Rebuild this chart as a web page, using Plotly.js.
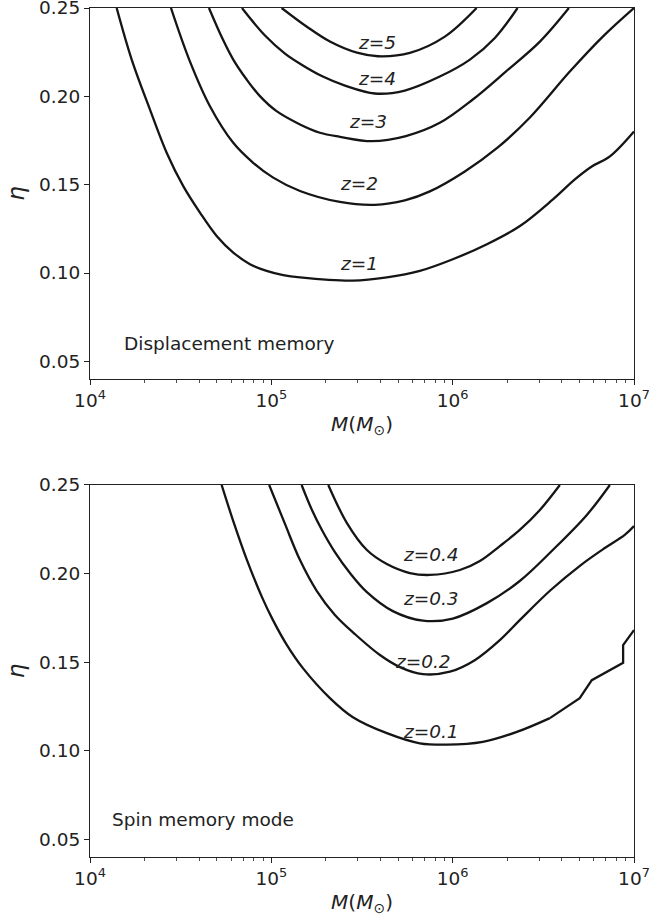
<!DOCTYPE html>
<html>
<head>
<meta charset="utf-8">
<script src="https://cdn.plot.ly/plotly-3.0.1.min.js"></script>
<style>html,body{margin:0;padding:0;background:#fff;}#chart{width:649px;height:919px;}</style>
</head>
<body>
<div id="chart"></div>
<script>
// ---- Data: top panel (Displacement memory), M in solar masses, eta ----
const M_z1 = [1.403e4, 1.698e4, 2.142e4, 2.647e4, 3.268e4, 4.041e4, 4.994e4, 6.166e4, 7.621e4, 9.419e4, 1.163e5, 1.439e5, 2.818e5, 4.335e5, 6.592e5, 1.002e6, 1.545e6, 2.350e6, 3.573e6, 4.720e6, 5.850e6, 7.362e6, 1.0e7];
const eta_z1 = [0.250, 0.2208, 0.1925, 0.1681, 0.1492, 0.1342, 0.1210, 0.1116, 0.1050, 0.1012, 0.0988, 0.0975, 0.0957, 0.0975, 0.1012, 0.1078, 0.1163, 0.1266, 0.1417, 0.1530, 0.1603, 0.1660, 0.1801];
const M_z2 = [2.796e4, 3.524e4, 4.586e4, 6.166e4, 7.943e4, 1.024e5, 1.439e5, 2.388e5, 3.724e5, 5.445e5, 7.482e5, 1.167e6, 1.774e6, 2.667e6, 4.426e6, 6.730e6, 1.0e7];
const eta_z2 = [0.250, 0.2208, 0.1944, 0.1737, 0.1624, 0.1540, 0.1464, 0.1402, 0.1386, 0.1411, 0.1462, 0.1575, 0.1711, 0.1880, 0.2140, 0.2338, 0.250];
const M_z3 = [4.529e4, 5.408e4, 6.166e4, 7.311e4, 8.650e4, 1.069e5, 1.439e5, 1.854e5, 2.388e5, 3.586e5, 5.521e5, 8.492e5, 1.291e6, 1.963e6, 3.027e6, 4.375e6];
const eta_z3 = [0.250, 0.2321, 0.2208, 0.2095, 0.2001, 0.1916, 0.1841, 0.1794, 0.1771, 0.1746, 0.1775, 0.1850, 0.1982, 0.2140, 0.2310, 0.250];
const M_z4 = [6.887e4, 9.226e4, 1.189e5, 1.439e5, 1.923e5, 2.547e5, 3.724e5, 5.445e5, 8.492e5, 1.245e6, 1.714e6, 2.279e6];
const eta_z4 = [0.250, 0.2344, 0.2242, 0.2185, 0.2112, 0.2061, 0.2016, 0.2033, 0.2112, 0.2208, 0.2332, 0.250];
const M_z5 = [1.140e5, 1.570e5, 2.104e5, 2.965e5, 3.873e5, 5.808e5, 9.057e5, 1.355e6];
const eta_z5 = [0.250, 0.2394, 0.2310, 0.2247, 0.2227, 0.2246, 0.2338, 0.250];

// ---- Data: bottom panel (Spin memory mode) ----
const M_s1 = [5.32e4, 6.14e4, 7.34e4, 8.88e4, 1.021e5, 1.219e5, 1.493e5, 2.104e5, 2.818e5, 4.335e5, 6.592e5, 9.29e5, 1.466e6, 2.259e6, 3.436e6, 5.02e6, 5.85e6, 8.71e6, 8.71e6, 1.0e7];
const eta_s1 = [0.250, 0.2302, 0.2076, 0.1867, 0.1737, 0.1596, 0.1466, 0.1297, 0.1189, 0.1099, 0.1042, 0.1034, 0.1050, 0.1106, 0.1184, 0.1297, 0.1398, 0.1496, 0.1596, 0.1681];
const M_s2 = [9.73e4, 1.189e5, 1.439e5, 1.783e5, 2.242e5, 2.891e5, 3.972e5, 5.117e5, 6.855e5, 9.66e5, 1.324e6, 1.820e6, 2.344e6, 3.475e6, 5.09e6, 6.90e6, 8.89e6, 1.0e7];
const eta_s2 = [0.250, 0.2280, 0.2076, 0.1901, 0.1766, 0.1658, 0.1540, 0.1472, 0.1432, 0.1446, 0.1511, 0.1624, 0.1737, 0.1907, 0.2048, 0.2144, 0.2218, 0.2268];
const M_s3 = [1.469e5, 1.675e5, 1.901e5, 2.242e5, 2.713e5, 3.365e5, 4.677e5, 6.855e5, 1.002e6, 1.545e6, 2.344e6, 3.565e6, 5.495e6, 7.36e6];
const eta_s3 = [0.250, 0.2359, 0.2246, 0.2121, 0.2003, 0.1895, 0.1788, 0.1734, 0.1746, 0.1833, 0.1958, 0.2133, 0.2331, 0.250];
const M_s4 = [2.061e5, 2.612e5, 3.365e5, 4.335e5, 5.808e5, 7.482e5, 1.096e6, 1.413e6, 1.820e6, 2.344e6, 3.027e6, 3.90e6];
const eta_s4 = [0.250, 0.2285, 0.2133, 0.2054, 0.2003, 0.1992, 0.2020, 0.2071, 0.2155, 0.2246, 0.2359, 0.250];

// ---- Labels / ticks ----
const topLabels = ['z=5', 'z=4', 'z=3', 'z=2', 'z=1'];
const botLabels = ['z=0.4', 'z=0.3', 'z=0.2', 'z=0.1'];
const xTickVals = [1e4, 1e5, 1e6, 1e7];
const xTickText = ['10<sup>4</sup>', '10<sup>5</sup>', '10<sup>6</sup>', '10<sup>7</sup>'];
const xMinorVals = [2e4, 3e4, 4e4, 5e4, 6e4, 7e4, 8e4, 9e4, 2e5, 3e5, 4e5, 5e5, 6e5, 7e5, 8e5, 9e5, 2e6, 3e6, 4e6, 5e6, 6e6, 7e6, 8e6, 9e6];
const yTickVals = [0.05, 0.10, 0.15, 0.20, 0.25];
const yTickText = ['0.05', '0.10', '0.15', '0.20', '0.25'];
const panelTitles = ['Displacement memory', 'Spin memory mode'];

const FONT = 'DejaVu Sans, sans-serif';
function tr(x, y, xa, ya, shape) {
  return {x: x, y: y, xaxis: xa, yaxis: ya, mode: 'lines',
    line: {color: '#151515', width: 2.3, shape: shape || 'spline', smoothing: 1.0},
    hoverinfo: 'skip', showlegend: false};
}
const SPLIT = 14; // z=0.1 contour: smooth part, then the jagged right end
const data = [
  tr(M_z1, eta_z1, 'x', 'y'), tr(M_z2, eta_z2, 'x', 'y'), tr(M_z3, eta_z3, 'x', 'y'),
  tr(M_z4, eta_z4, 'x', 'y'), tr(M_z5, eta_z5, 'x', 'y'),
  tr(M_s1.slice(0, SPLIT + 1), eta_s1.slice(0, SPLIT + 1), 'x2', 'y2'),
  tr(M_s1.slice(SPLIT), eta_s1.slice(SPLIT), 'x2', 'y2', 'linear'),
  tr(M_s2, eta_s2, 'x2', 'y2'), tr(M_s3, eta_s3, 'x2', 'y2'), tr(M_s4, eta_s4, 'x2', 'y2')
];

function xax(anchor) {
  return {
    type: 'log', range: [4, 7], anchor: anchor, domain: [0, 1],
    tickmode: 'array', tickvals: xTickVals, ticktext: xTickText,
    ticks: 'outside', ticklen: 5, tickwidth: 1, tickcolor: '#222',
    minor: {tickmode: 'array', tickvals: xMinorVals, ticks: 'outside', ticklen: 3, tickwidth: 0.8, tickcolor: '#222', showgrid: false},
    showline: true, linecolor: '#222', linewidth: 1, mirror: true, showgrid: false, zeroline: false,
    ticklabeloverflow: 'allow',
    tickfont: {family: FONT, size: 18.5, color: '#222'},
    title: {text: '<i>M</i>(<i>M</i><sub>⊙</sub>)', font: {family: FONT, size: 20, color: '#222'}, standoff: 6}
  };
}
function yax(anchor, dom) {
  return {
    range: [0.04, 0.25], anchor: anchor, domain: dom,
    tickmode: 'array', tickvals: yTickVals, ticktext: yTickText,
    ticks: 'outside', ticklen: 5, tickwidth: 1, tickcolor: '#222',
    showline: true, linecolor: '#222', linewidth: 1, mirror: true, showgrid: false, zeroline: false,
    ticklabeloverflow: 'allow',
    tickfont: {family: FONT, size: 18.5, color: '#222'},
    title: {text: '<i>η</i>', font: {family: FONT, size: 23, color: '#222'}, standoff: 8}
  };
}

const annFont = {family: FONT, size: 18.5, color: '#222'};
const topPos = [[0.528, 0.906], [0.528, 0.811], [0.511, 0.693], [0.4945, 0.526], [0.4945, 0.310]];
const botPos = [[0.626, 0.812], [0.626, 0.695], [0.612, 0.525], [0.627, 0.337]];
const annotations = [];
topLabels.forEach((t, i) => annotations.push({text: '<i>' + t + '</i>', xref: 'x domain', yref: 'y domain', x: topPos[i][0], y: topPos[i][1], showarrow: false, font: annFont, xanchor: 'center', yanchor: 'middle'}));
botLabels.forEach((t, i) => annotations.push({text: '<i>' + t + '</i>', xref: 'x2 domain', yref: 'y2 domain', x: botPos[i][0], y: botPos[i][1], showarrow: false, font: annFont, xanchor: 'center', yanchor: 'middle'}));
annotations.push({text: panelTitles[0], xref: 'x domain', yref: 'y domain', x: 0.058, y: 0.097, showarrow: false, font: annFont, xanchor: 'left', yanchor: 'middle'});
annotations.push({text: panelTitles[1], xref: 'x2 domain', yref: 'y2 domain', x: 0.037, y: 0.0995, showarrow: false, font: annFont, xanchor: 'left', yanchor: 'middle'});

const layout = {
  width: 649, height: 919,
  margin: {l: 90, r: 15, t: 8, b: 62},
  paper_bgcolor: '#fff', plot_bgcolor: '#fff',
  xaxis: xax('y'), yaxis: yax('x', [0.563, 1]),
  xaxis2: xax('y2'), yaxis2: yax('x2', [0, 0.4382]),
  annotations: annotations,
  showlegend: false
};
Plotly.newPlot('chart', data, layout, {displayModeBar: false, staticPlot: true});
</script>
</body>
</html>
